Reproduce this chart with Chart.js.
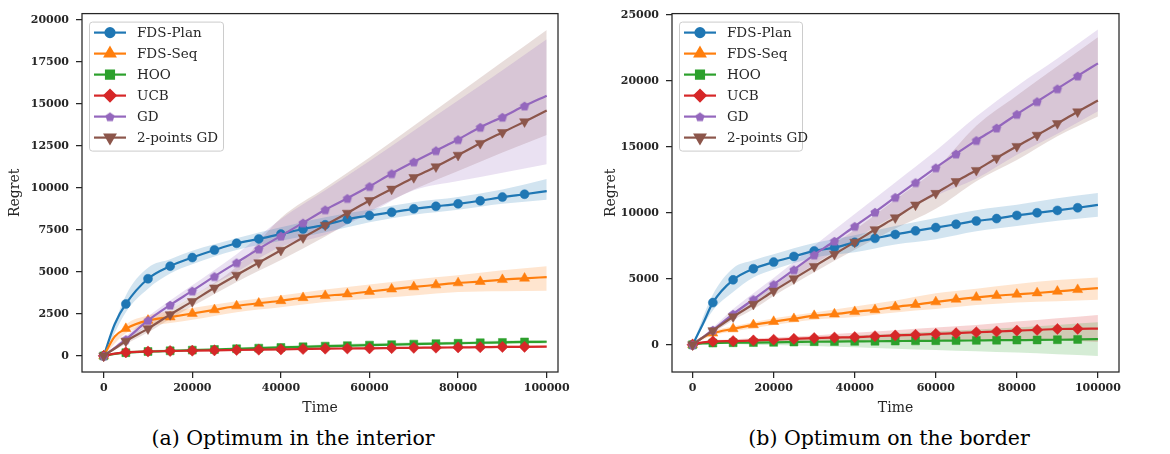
<!DOCTYPE html>
<html>
<head>
<meta charset="utf-8">
<script src="https://cdn.jsdelivr.net/npm/chart.js@4.4.0/dist/chart.umd.min.js"></script>
<style>
  body { margin: 0; background: #fff; width: 1170px; height: 454px; position: relative; overflow: hidden; }
  canvas { position: absolute; top: 0; }
  #chartA { left: 0; }
  #chartB { left: 590px; }
  .caption { position: absolute; top: 425px; font-family: 'DejaVu Serif', serif; font-size: 20.5px; color: #000;
             transform: translateX(-50%); white-space: nowrap; line-height: 26px; }
</style>
</head>
<body>
<canvas id="chartA" width="580" height="420"></canvas>
<canvas id="chartB" width="580" height="420"></canvas>
<div class="caption" style="left:293px">(a) Optimum in the interior</div>
<div class="caption" style="left:889px">(b) Optimum on the border</div>
<script>
// time steps of the mean curves, and of the shaded bands
const time = [0, 2500, 5000, 10000, 15000, 20000, 25000, 30000, 35000, 40000, 45000, 50000,
              55000, 60000, 65000, 70000, 75000, 80000, 85000, 90000, 95000, 100000];
const bandTime = [0, 5000, 10000, 15000, 20000, 30000, 40000, 50000, 60000, 70000, 80000, 90000, 100000];

const seriesNames = ['FDS-Plan', 'FDS-Seq', 'HOO', 'UCB', 'GD', '2-points GD'];
const xTickValues = [0, 20000, 40000, 60000, 80000, 100000];
const yTicksInterior = [0, 2500, 5000, 7500, 10000, 12500, 15000, 17500, 20000];
const yTicksBorder = [0, 5000, 10000, 15000, 20000, 25000];

// (a) optimum in the interior
const interiorPlan = [0, 1900, 3090, 4590, 5340, 5850, 6300, 6700, 6960, 7250, 7550, 7800, 8130, 8350, 8550, 8750, 8900, 9050, 9230, 9450, 9620, 9800];
const interiorSeq  = [0, 1150, 1620, 2110, 2310, 2520, 2740, 2970, 3130, 3280, 3460, 3580, 3680, 3830, 3970, 4105, 4220, 4340, 4420, 4535, 4615, 4690];
const interiorHoo  = [0, 120, 190, 260, 300, 340, 380, 420, 460, 500, 540, 580, 610, 640, 670, 700, 730, 750, 780, 800, 830, 840];
const interiorUcb  = [0, 130, 210, 260, 290, 310, 330, 350, 370, 390, 410, 430, 440, 450, 465, 480, 490, 505, 515, 530, 540, 550];
const interiorGd   = [0, 480, 980, 2110, 3030, 3870, 4730, 5550, 6370, 7140, 7920, 8700, 9380, 10090, 10850, 11550, 12220, 12880, 13610, 14210, 14880, 15480];
const interiorGd2  = [0, 440, 880, 1620, 2460, 3240, 4050, 4810, 5550, 6290, 7040, 7780, 8500, 9250, 9930, 10620, 11260, 11950, 12650, 13300, 13940, 14600];

const interiorPlanLow  = [0, 2600, 4000, 4900, 5450, 6300, 6850, 7350, 7950, 8400, 8700, 9050, 9290];
const interiorPlanHigh = [0, 3600, 5250, 5750, 6250, 7000, 7650, 8250, 8700, 9150, 9450, 9900, 10520];
const interiorSeqLow   = [0, 1350, 1750, 1950, 2150, 2600, 2900, 3200, 3400, 3600, 3800, 3850, 3870];
const interiorSeqHigh  = [0, 1850, 2400, 2650, 2850, 3250, 3600, 3950, 4250, 4550, 4800, 5100, 5340];
const interiorHooLow   = [0, 100, 180, 230, 270, 340, 420, 490, 560, 620, 670, 710, 740];
const interiorHooHigh  = [0, 280, 340, 380, 420, 500, 600, 680, 760, 810, 860, 920, 950];
const interiorUcbLow   = [0, 150, 200, 240, 260, 290, 330, 370, 400, 420, 450, 480, 490];
const interiorUcbHigh  = [0, 270, 320, 340, 360, 410, 450, 490, 520, 550, 590, 610, 620];
const interiorGdLow    = [0, 800, 1850, 2750, 3550, 5000, 6500, 7200, 8500, 9850, 10400, 10900, 11400];
const interiorGdHigh   = [0, 1150, 2350, 3300, 4200, 6050, 8150, 9850, 11600, 13400, 15200, 17000, 18850];
const interiorGd2Low   = [0, 700, 1400, 2200, 2950, 4400, 5700, 7100, 8600, 9900, 11000, 12100, 13150];
const interiorGd2High  = [0, 1050, 1850, 2750, 3550, 5300, 8200, 10000, 11800, 13700, 15600, 17500, 19400];

// (b) optimum on the border
const borderPlan = [0, 1550, 3190, 4915, 5760, 6260, 6690, 7110, 7360, 7760, 8060, 8360, 8630, 8880, 9130, 9380, 9560, 9800, 10000, 10180, 10380, 10600];
const borderSeq  = [0, 550, 870, 1200, 1500, 1750, 1970, 2200, 2320, 2500, 2640, 2870, 3040, 3240, 3440, 3590, 3720, 3820, 3920, 4040, 4170, 4290];
const borderHoo  = [0, 90, 125, 150, 160, 175, 200, 225, 240, 250, 260, 275, 290, 300, 310, 325, 340, 350, 360, 375, 400, 425];
const borderUcb  = [0, 170, 250, 275, 320, 375, 440, 500, 540, 575, 640, 700, 750, 820, 870, 945, 1000, 1070, 1120, 1190, 1200, 1220];
const borderGd   = [0, 560, 1120, 2320, 3440, 4570, 5690, 6810, 7860, 8980, 10050, 11180, 12300, 13420, 14470, 15490, 16440, 17470, 18440, 19410, 20380, 21330];
const borderGd2  = [0, 530, 1070, 2120, 3070, 4070, 5010, 5940, 6860, 7780, 8730, 9630, 10600, 11480, 12380, 13220, 14150, 15040, 15890, 16770, 17660, 18510];

const borderPlanLow  = [0, 2600, 4000, 5100, 5700, 6600, 7000, 7600, 8000, 8600, 9000, 9400, 9700];
const borderPlanHigh = [0, 3800, 5800, 6400, 6850, 7700, 8300, 9000, 9600, 10200, 10600, 11100, 11500];
const borderSeqLow   = [0, 700, 1000, 1250, 1500, 1900, 2100, 2450, 2700, 3000, 3200, 3300, 3400];
const borderSeqHigh  = [0, 1000, 1400, 1700, 2000, 2450, 2900, 3350, 3900, 4250, 4600, 4900, 5100];
const borderHooLow   = [0, 50, 50, 0, -20, -100, -200, -300, -400, -500, -600, -720, -850];
const borderHooHigh  = [0, 250, 300, 350, 400, 550, 700, 850, 1000, 1150, 1300, 1500, 1700];
const borderUcbLow   = [0, 150, 180, 200, 220, 250, 280, 300, 350, 400, 420, 350, 200];
const borderUcbHigh  = [0, 350, 400, 480, 550, 700, 900, 1100, 1300, 1500, 1750, 2000, 2250];
const borderGdLow    = [0, 950, 2000, 3000, 4100, 6100, 8000, 9800, 11300, 12600, 14400, 16000, 17700];
const borderGdHigh   = [0, 1300, 2700, 3900, 5050, 7500, 9900, 12300, 14700, 17300, 19600, 21700, 23900];
const borderGd2Low   = [0, 900, 1850, 2700, 3700, 5500, 7200, 8800, 10300, 12400, 14000, 15800, 17300];
const borderGd2High  = [0, 1200, 2450, 3450, 4450, 6700, 8700, 11000, 13300, 16600, 18900, 21100, 23300];

const colors = ['#1f77b4', '#ff7f0e', '#2ca02c', '#d62728', '#9467bd', '#8c564b'];
const fontFamily = "'DejaVu Serif', serif";
const textColor = '#262626';

function withAlpha(hex, a) {
  const n = parseInt(hex.slice(1), 16);
  return `rgba(${n >> 16}, ${(n >> 8) & 255}, ${n & 255}, ${a})`;
}

function pentagon(color, r) {
  const c = document.createElement('canvas');
  const s = Math.ceil(r * 2 + 2);
  c.width = c.height = s;
  const g = c.getContext('2d');
  g.fillStyle = color;
  g.beginPath();
  for (let k = 0; k < 5; k++) {
    const a = -Math.PI / 2 + k * 2 * Math.PI / 5;
    g.lineTo(s / 2 + r * Math.cos(a), s / 2 + 0.6 + r * Math.sin(a));
  }
  g.closePath();
  g.fill();
  return c;
}

const markers = [
  { pointStyle: 'circle', radius: 4.5, rotation: 0 },
  { pointStyle: 'triangle', radius: 5.8, rotation: 0 },
  { pointStyle: 'rect', radius: 5.6, rotation: 0 },
  { pointStyle: 'rectRot', radius: 5.6, rotation: 0 },
  { pointStyle: pentagon(colors[4], 4.8), radius: 4.8, rotation: 0 },
  { pointStyle: 'triangle', radius: 5.8, rotation: 180 }
];

// frame round the axes and the boxed legend
const frameLegend = {
  id: 'frameLegend',
  afterDraw(chart, args, opts) {
    const { ctx, chartArea: a } = chart;
    ctx.save();
    ctx.strokeStyle = textColor;
    ctx.lineWidth = 1.25;
    ctx.strokeRect(a.left, a.top, a.right - a.left, a.bottom - a.top);

    const x0 = a.left + 7, y0 = a.top + 8, w = opts.width, h = 129;
    ctx.beginPath();
    ctx.roundRect(x0 + 0.5, y0 + 0.5, w, h, 3);
    ctx.fillStyle = 'rgba(255,255,255,0.8)';
    ctx.fill();
    ctx.strokeStyle = '#cccccc';
    ctx.lineWidth = 1;
    ctx.stroke();

    ctx.font = `13.5px ${fontFamily}`;
    ctx.textBaseline = 'middle';
    seriesNames.forEach((name, i) => {
      const y = y0 + 11 + i * 21;
      ctx.strokeStyle = colors[i];
      ctx.fillStyle = colors[i];
      ctx.lineWidth = 2.2;
      ctx.beginPath();
      ctx.moveTo(x0 + 5, y);
      ctx.lineTo(x0 + 37, y);
      ctx.stroke();
      Chart.helpers.drawPoint(ctx, { ...markers[i], borderWidth: 0.5 }, x0 + 21, y);
      ctx.fillStyle = textColor;
      ctx.fillText(name, x0 + 48, y + 1);
    });
    ctx.restore();
  }
};

function makeChart(id, cfg) {
  const datasets = [];
  cfg.bands.forEach((b, i) => {
    datasets.push({
      data: bandTime.map((t, k) => ({ x: t, y: b[0][k] })),
      borderColor: 'rgba(0,0,0,0)', borderWidth: 0, pointRadius: 0, fill: false,
      order: 20, cubicInterpolationMode: 'monotone'
    });
    datasets.push({
      data: bandTime.map((t, k) => ({ x: t, y: b[1][k] })),
      borderColor: 'rgba(0,0,0,0)', borderWidth: 0, pointRadius: 0,
      backgroundColor: withAlpha(colors[i], 0.2), fill: '-1',
      order: 20, cubicInterpolationMode: 'monotone'
    });
  });
  cfg.means.forEach((m, i) => {
    datasets.push({
      label: seriesNames[i],
      data: time.map((t, k) => ({ x: t, y: m[k] })),
      borderColor: colors[i],
      backgroundColor: colors[i],
      borderWidth: 2.2,
      fill: false,
      cubicInterpolationMode: 'monotone',
      pointStyle: markers[i].pointStyle,
      pointRotation: markers[i].rotation,
      pointBorderColor: colors[i],
      pointBorderWidth: 0.5,
      pointRadius: ctx => {
        const t = time[ctx.dataIndex];
        return (t % 5000 === 0 && t < 100000) ? markers[i].radius : 0;
      },
      order: 6 - i
    });
  });

  const tickFont = { family: fontFamily, size: 11, weight: 'bold' };
  const titleFont = { family: fontFamily, size: 14 };
  const gridCfg = { drawOnChartArea: false, drawTicks: true, tickLength: 6, color: textColor, lineWidth: 1.25 };

  return new Chart(document.getElementById(id), {
    type: 'line',
    data: { datasets },
    plugins: [frameLegend],
    options: {
      responsive: false,
      animation: false,
      events: [],
      layout: { autoPadding: false, padding: { top: 9, right: cfg.padRight, bottom: 0, left: 0 } },
      plugins: {
        legend: { display: false },
        tooltip: { enabled: false },
        frameLegend: { width: cfg.legendWidth }
      },
      scales: {
        x: {
          type: 'linear', min: cfg.xMin, max: cfg.xMax,
          afterBuildTicks: s => { s.ticks = xTickValues.map(v => ({ value: v })); },
          afterFit: s => { s.height = 48; },
          grid: gridCfg,
          border: { display: false },
          ticks: { font: tickFont, color: textColor, padding: 4, maxRotation: 0, callback: v => String(v) },
          title: { display: true, text: 'Time', font: titleFont, color: textColor, padding: { top: 0, bottom: 3 } }
        },
        y: {
          type: 'linear', min: cfg.yMin, max: cfg.yMax,
          afterBuildTicks: s => { s.ticks = cfg.yTicks.map(v => ({ value: v })); },
          afterFit: s => { s.width = cfg.yWidth; },
          grid: gridCfg,
          border: { display: false },
          ticks: { font: tickFont, color: textColor, padding: 7, callback: v => String(v) },
          title: { display: true, text: 'Regret', font: titleFont, color: textColor, padding: cfg.yTitlePad }
        }
      }
    }
  });
}

makeChart('chartA', {
  means: [interiorPlan, interiorSeq, interiorHoo, interiorUcb, interiorGd, interiorGd2],
  bands: [[interiorPlanLow, interiorPlanHigh], [interiorSeqLow, interiorSeqHigh], [interiorHooLow, interiorHooHigh],
          [interiorUcbLow, interiorUcbHigh], [interiorGdLow, interiorGdHigh], [interiorGd2Low, interiorGd2High]],
  xMin: -4900, xMax: 102550, yMin: -960, yMax: 20370, yTicks: yTicksInterior,
  yWidth: 82, padRight: 22, yTitlePad: 7, legendWidth: 134
});

makeChart('chartB', {
  means: [borderPlan, borderSeq, borderHoo, borderUcb, borderGd, borderGd2],
  bands: [[borderPlanLow, borderPlanHigh], [borderSeqLow, borderSeqHigh], [borderHooLow, borderHooHigh],
          [borderUcbLow, borderUcbHigh], [borderGdLow, borderGdHigh], [borderGd2Low, borderGd2High]],
  xMin: -5080, xMax: 105200, yMin: -2070, yMax: 25100, yTicks: yTicksBorder,
  yWidth: 82, padRight: 51, yTitlePad: 13, legendWidth: 123
});
</script>
</body>
</html>
